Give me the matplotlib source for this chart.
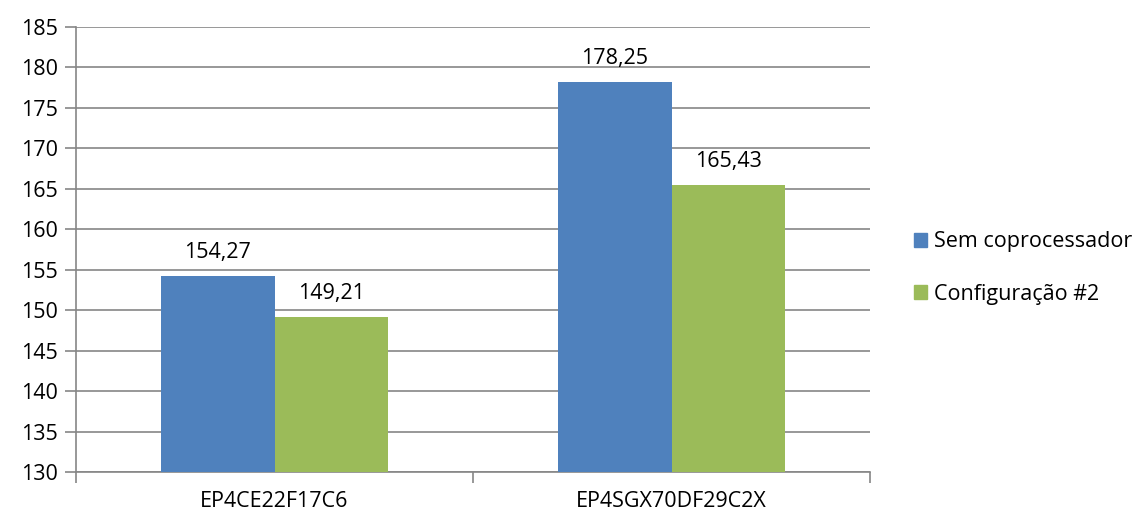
import matplotlib
matplotlib.use("Agg")
import matplotlib.pyplot as plt
import numpy as np
from matplotlib.patches import Patch

categories = ["EP4CE22F17C6", "EP4SGX70DF29C2X"]
series_names = ["Sem coprocessador", "Configuração #2"]
sem_coproc = [154.27, 178.25]
config2 = [149.21, 165.43]
yticks = [130, 135, 140, 145, 150, 155, 160, 165, 170, 175, 180, 185]

colors = ["#4F81BD", "#9BBB59"]
grid_c = "#868686"
plt.rcParams['font.family'] = ['Open Sans', 'DejaVu Sans']
fs = 15.5

fig = plt.figure(figsize=(11.47, 5.15), dpi=100)
ax = fig.add_axes([76/1147, 1-472/515, (870-76)/1147, (472-27)/515])

x = np.arange(len(categories))
w = 0.285
for i, (vals, c) in enumerate(zip([sem_coproc, config2], colors)):
    pos = x + (i - 0.5) * w
    ax.bar(pos, [v - 130 for v in vals], bottom=130, width=w, color=c, zorder=3)
    for p, v in zip(pos, vals):
        ax.text(p, v + 1.6, f"{v:.2f}".replace(".", ","), ha="center", va="bottom",
                fontsize=fs, color="black")

ax.set_xlim(-0.5, 1.5)
ax.set_ylim(130, 185)
ax.set_yticks(yticks)
ax.set_yticklabels([str(t) for t in yticks], fontsize=fs)
ax.yaxis.grid(True, color=grid_c, linewidth=1.2, zorder=0)
ax.set_axisbelow(True)
ax.set_xticks([-0.5, 0.5, 1.5])
ax.set_xticklabels([])
ax.set_xticks(x, minor=True)
ax.set_xticklabels(categories, minor=True, fontsize=fs)
ax.tick_params(axis='x', which='major', length=8, color=grid_c, width=1.2, direction='out')
ax.tick_params(axis='x', which='minor', length=0, pad=14)
ax.tick_params(axis='y', length=8, color=grid_c, width=1.2, pad=5)
for s in ["top", "right"]:
    ax.spines[s].set_visible(False)
ax.spines["left"].set_color(grid_c)
ax.spines["left"].set_linewidth(1.2)
ax.spines["bottom"].set_color(grid_c)
ax.spines["bottom"].set_linewidth(1.2)

handles = [Patch(color=c) for c in colors]
fig.legend(handles, series_names, loc="center left", bbox_to_anchor=(895/1147, 1-268/515),
           frameon=False, fontsize=fs, handlelength=0.6, handleheight=0.6,
           handletextpad=0.3, labelspacing=1.45)

fig.savefig("out.png", dpi=100)
